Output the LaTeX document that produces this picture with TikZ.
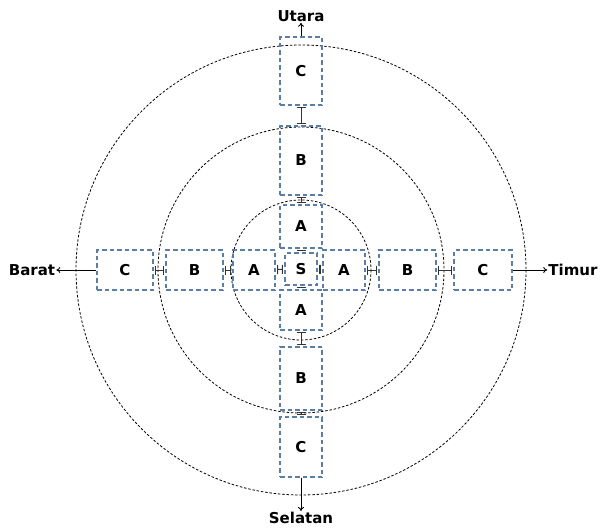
\documentclass[tikz,border=0pt]{standalone}
\usepackage{fontspec}
\setmainfont{DejaVu Sans}
\usepackage{tikz}
\usetikzlibrary{positioning,calc,arrows.meta}
\definecolor{plotblue}{RGB}{92,125,165}

\begin{document}
\begin{tikzpicture}[
    x=1pt, y=-1pt,
    font=\bfseries\fontsize{15}{17}\selectfont,
    zone/.style={draw=black, line width=0.8pt, dash pattern=on 2.5pt off 1.8pt},
    plot/.style={draw=plotblue, line width=1.2pt, dash pattern=on 4.5pt off 3pt, inner sep=0pt, align=center},
    hbox/.style={plot, minimum height=40pt},
    vbox/.style={plot, minimum width=42pt},
    link/.style={{Bar[width=9pt]}-{Bar[width=9pt]}, line width=1pt, black!80, shorten <=1.5pt, shorten >=1.5pt},
    dir/.style={-{To[length=4pt,width=6pt]}, line width=0.9pt},
    lbl/.style={inner sep=1pt}
  ]
  \useasboundingbox (0,0) rectangle (606,530);
  % zones round the centre plot
  \coordinate (ctr) at (301,270);
  \draw[zone] (ctr) circle[radius=70];
  \draw[zone] (ctr) circle[radius=143];
  \draw[zone] (ctr) circle[radius=225];
  % centre
  \node[plot, minimum width=32pt, minimum height=32pt] (s) at (301,269) {S};
  % west - east row
  \node[hbox, minimum width=56pt] (wc) at (125,270) {C};
  \node[hbox, minimum width=57pt] (wb) at (194.5,270) {B};
  \node[hbox, minimum width=42pt] (wa) at (254,270) {A};
  \node[hbox, minimum width=42pt] (ea) at (344,270) {A};
  \node[hbox, minimum width=57pt] (eb) at (407.5,270) {B};
  \node[hbox, minimum width=58pt] (ec) at (483,270) {C};
  % north - south column
  \node[vbox, minimum height=68pt] (nc) at (301,71) {C};
  \node[vbox, minimum height=69pt] (nb) at (301,160.5) {B};
  \node[vbox, minimum height=43pt] (na) at (301,226.5) {A};
  \node[vbox, minimum height=40pt] (sa) at (301,310) {A};
  \node[vbox, minimum height=63pt] (sb) at (301,378.5) {B};
  \node[vbox, minimum height=60pt] (sc) at (301,447) {C};
  % directions
  \node[lbl] (utara) at (301,16) {Utara};
  \node[lbl] (selatan) at (301,518) {Selatan};
  \node[lbl] (barat) at (32,270) {Barat};
  \node[lbl] (timur) at (573,270) {Timur};
  % links between plots
  \draw[link] (wc) -- (wb);
  \draw[link] (wb) -- (wa);
  \draw[link] (wa) -- (s);
  \draw[link] (s) -- (ea);
  \draw[link] (ea) -- (eb);
  \draw[link] (eb) -- (ec);
  \draw[link] (nc) -- (nb);
  \draw[link] (nb) -- (na);
  \draw[link] (na) -- (s);
  \draw[link] (s) -- (sa);
  \draw[link] (sa) -- (sb);
  \draw[link] (sb) -- (sc);
  % compass arrows
  \draw[dir] (nc) -- (utara);
  \draw[dir] (sc) -- (selatan);
  \draw[dir] (wc) -- (barat);
  \draw[dir] (ec) -- (timur);
\end{tikzpicture}
\end{document}
